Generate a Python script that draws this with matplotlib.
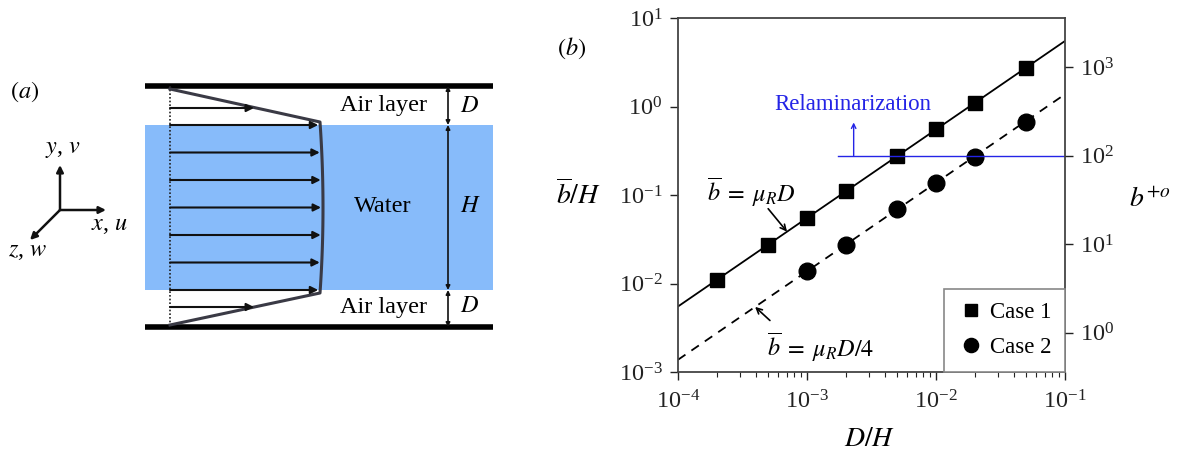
import numpy as np
import matplotlib
matplotlib.use("Agg")
import matplotlib.pyplot as plt
from matplotlib.ticker import LogLocator, NullLocator, NullFormatter

plt.rcParams['font.family'] = ['Liberation Serif', 'DejaVu Serif']
plt.rcParams['mathtext.fontset'] = 'stix'

# ---- data ----
D_case1 = [2e-4, 5e-4, 1e-3, 2e-3, 5e-3, 1e-2, 2e-2, 5e-2]
b_case1 = [0.011, 0.0275, 0.055, 0.11, 0.275, 0.55, 1.1, 2.75]
D_case2 = [1e-3, 2e-3, 5e-3, 1e-2, 2e-2, 5e-2]
b_case2 = [0.0138, 0.0275, 0.069, 0.138, 0.272, 0.66]
mu_R = 55.0
Re_scale = 360.0          # b+o = Re_scale * b/H
D_line = np.array([1e-4, 1e-1])
relam_bplus = 100.0
relam_D_start = 1.74e-3
legend_labels = ['Case 1', 'Case 2']

W, H = 1180, 455
fig = plt.figure(figsize=(W / 100, H / 100), dpi=100)

# ---- panel (a): schematic, drawn in pixel coordinates ----
sk = fig.add_axes([0, 0, 1, 1])
sk.set_xlim(0, W)
sk.set_ylim(H, 0)
sk.axis('off')
sk.patch.set_alpha(0)

x0, x1 = 145, 493
y_top, y_bot = 86, 327
y_w1, y_w2 = 125, 290
x_base = 170
x_prof = 320

sk.add_patch(plt.Rectangle((x0, y_w1), x1 - x0, y_w2 - y_w1, color='#87BBFA', lw=0, zorder=0))
sk.plot([x0, x1], [y_top, y_top], color='black', lw=4, solid_capstyle='butt')
sk.plot([x0, x1], [y_bot, y_bot], color='black', lw=4, solid_capstyle='butt')
sk.plot([x_base, x_base], [y_top, y_bot], color='#222222', lw=1.2, ls=(0, (1, 1.2)))

# velocity profile
yy = np.linspace(y_w1 - 3, y_w2 + 3, 60)
xx = x_prof + 3.0 * (1 - ((yy - (y_w1 + y_w2) / 2) / ((y_w2 - y_w1) / 2 + 3)) ** 2)
prof_x = np.concatenate([[x_base], xx, [x_base]])
prof_y = np.concatenate([[y_top + 3], yy, [y_bot - 2]])
sk.plot(prof_x, prof_y, color='#3a3a45', lw=2.2)

def prof_at(y):
    return np.interp(y, prof_y[1:-1], prof_x[1:-1])

arrow_kw = dict(arrowstyle='-|>', lw=1.5, color='#111111', mutation_scale=11, shrinkA=0, shrinkB=0)
for y in np.linspace(y_w1, y_w2, 7):
    sk.annotate('', xy=(prof_at(y) - 2, y), xytext=(x_base, y), arrowprops=arrow_kw)
for y in (108, 307):
    sk.annotate('', xy=(254, y), xytext=(x_base, y), arrowprops=arrow_kw)

dim_kw = dict(arrowstyle='<|-|>', lw=1.2, color='#111111', mutation_scale=6, shrinkA=0, shrinkB=0)
for ya, yb in ((y_top, y_w1), (y_w1, y_w2), (y_w2, y_bot)):
    sk.annotate('', xy=(448, ya), xytext=(448, yb), arrowprops=dim_kw)

fs_sk = 17.5
sk.text(383, 106, 'Air layer', fontsize=fs_sk, ha='center', va='center')
sk.text(383, 307, 'Air layer', fontsize=fs_sk, ha='center', va='center')
sk.text(383, 207, 'Water', fontsize=fs_sk, ha='center', va='center')
sk.text(470, 106, '$D$', fontsize=fs_sk, ha='center', va='center')
sk.text(470, 307, '$D$', fontsize=fs_sk, ha='center', va='center')
sk.text(470, 207, '$H$', fontsize=fs_sk, ha='center', va='center')
sk.text(25, 92, '$(a)$', fontsize=fs_sk, ha='center', va='center')

# coordinate triad
ax_kw = dict(arrowstyle='-|>', lw=1.8, color='#111111', mutation_scale=10, shrinkA=0, shrinkB=0)
ox, oy = 60, 210
sk.annotate('', xy=(60, 165), xytext=(ox, oy), arrowprops=ax_kw)
sk.annotate('', xy=(106, 210), xytext=(ox, oy), arrowprops=ax_kw)
sk.annotate('', xy=(30, 240), xytext=(ox, oy), arrowprops=ax_kw)
sk.text(63, 150, '$y$, $v$', fontsize=fs_sk, ha='center', va='center')
sk.text(110, 226, '$x$, $u$', fontsize=fs_sk, ha='center', va='center')
sk.text(28, 252, '$z$, $w$', fontsize=fs_sk, ha='center', va='center')

# ---- panel (b) ----
ax = fig.add_axes([678 / W, 1 - 372 / H, (1065 - 678) / W, (372 - 18) / H])
ax.set_xscale('log')
ax.set_yscale('log')
ax.set_xlim(1e-4, 1e-1)
ax.set_ylim(1e-3, 1e1)

ax.plot(D_line, mu_R * D_line, color='black', lw=1.3)
ax.plot(D_line, mu_R * D_line / 4, color='black', lw=1.3, ls=(0, (5, 4)))
ax.plot(D_case1, b_case1, ls='none', marker='s', ms=10, color='black', label=legend_labels[0])
ax.plot(D_case2, b_case2, ls='none', marker='o', ms=12, color='black', label=legend_labels[1])

blue = '#2424e6'
relam_b = relam_bplus / Re_scale
ax.plot([relam_D_start, 1e-1], [relam_b, relam_b], color=blue, lw=1.0)
ax.annotate('', xy=(2.3e-3, 0.66), xytext=(2.3e-3, relam_b),
            arrowprops=dict(arrowstyle='->', lw=1.0, color=blue, mutation_scale=8, shrinkA=0, shrinkB=0))
ax.text(2.27e-3, 1.05, 'Relaminarization', color=blue, fontsize=16.5, ha='center', va='center')

ax.text(3.68e-4, 0.107, r'$\overline{b}\;=\;\mu_R D$', fontsize=17.5, ha='center', va='center')
ax.annotate('', xy=(7e-4, mu_R * 7e-4), xytext=(5.0e-4, 0.070),
            arrowprops=dict(arrowstyle='->', lw=1.2, color='black', mutation_scale=10, shrinkA=0, shrinkB=0))
ax.text(1.285e-3, 1.89e-3, r'$\overline{b}\;=\;\mu_R D/4$', fontsize=17.5, ha='center', va='center')
ax.annotate('', xy=(3.96e-4, mu_R * 3.96e-4 / 4), xytext=(5.16e-4, 3.82e-3),
            arrowprops=dict(arrowstyle='->', lw=1.2, color='black', mutation_scale=10, shrinkA=0, shrinkB=0))

tick_fs = 17.5
for s in ax.spines.values():
    s.set_color('#444444')
    s.set_linewidth(1.3)
ax.tick_params(which='both', direction='out', top=False, right=False, labelsize=tick_fs, colors='#222222')
ax.tick_params(which='major', length=6, width=1.0)
ax.tick_params(which='minor', length=3.5, width=0.8)
ax.xaxis.set_major_locator(LogLocator(base=10, numticks=10))
ax.xaxis.set_minor_locator(LogLocator(base=10, subs=np.arange(2, 10), numticks=10))
ax.xaxis.set_minor_formatter(NullFormatter())
ax.yaxis.set_minor_locator(NullLocator())
ax.tick_params(axis='x', pad=7)
ax.tick_params(axis='y', pad=5)

ax.set_xlabel('$D/H$', fontsize=20, va='center')
ax.xaxis.set_label_coords(0.496, -0.19)
ax.set_ylabel(r'$\overline{b}/H$', fontsize=20, rotation=0, va='center', ha='center')
ax.yaxis.set_label_coords(-0.258, 0.5)

leg = ax.legend(loc='lower right', borderaxespad=0, fancybox=False, edgecolor='#888888',
                framealpha=1, fontsize=16.5, handletextpad=0.2, handlelength=1.2,
                borderpad=0.6, labelspacing=0.6, markerscale=0.85)
leg.get_frame().set_linewidth(1.2)

ax2 = ax.twinx()
ax2.set_yscale('log')
ax2.set_ylim(1e-3 * Re_scale, 1e1 * Re_scale)
ax2.yaxis.set_major_locator(LogLocator(base=10, numticks=10))
ax2.yaxis.set_minor_locator(NullLocator())
ax2.tick_params(which='major', direction='out', length=6, width=1.0, labelsize=tick_fs,
                colors='#222222', pad=5)
for s in ax2.spines.values():
    s.set_visible(False)
ax2.set_ylabel('$b^{+o}$', fontsize=20, rotation=0, va='center', ha='center')
ax2.yaxis.set_label_coords(1.22, 0.486)

fig.text(572 / W, 1 - 48 / H, '$(b)$', fontsize=17.5, ha='center', va='center')

fig.savefig('out.png', dpi=100)
